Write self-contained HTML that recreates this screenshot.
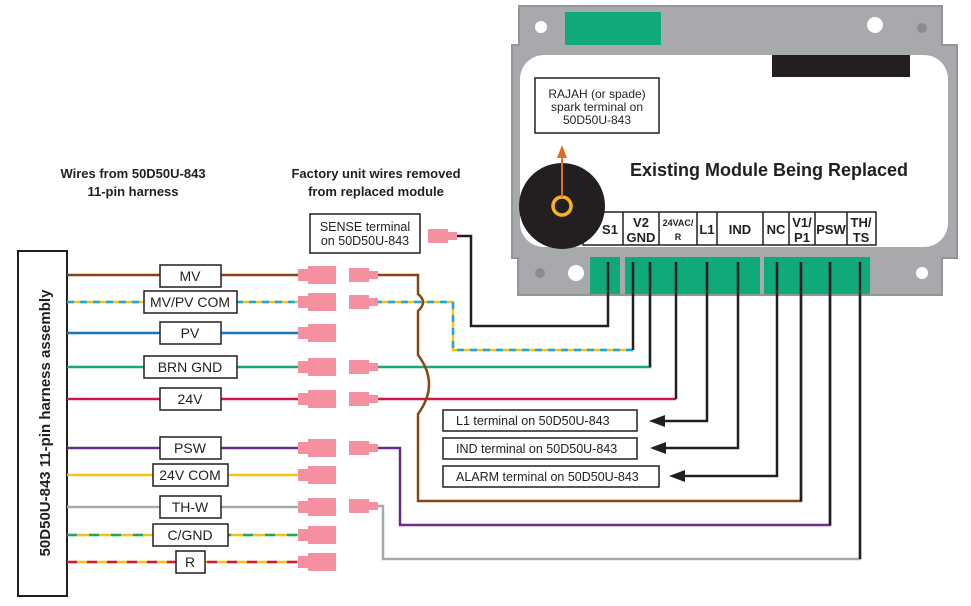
<!DOCTYPE html>
<html><head><meta charset="utf-8"><style>
html,body{margin:0;padding:0;background:#fff;}
svg{display:block;font-family:"Liberation Sans",Arial,sans-serif;}
</style></head><body>
<svg width="971" height="606" viewBox="0 0 971 606" xmlns="http://www.w3.org/2000/svg">
<defs>
<g id="fc"><rect x="0" y="-6" width="12" height="12" fill="#f4909f"/><rect x="10" y="-9" width="28" height="18" fill="#f4909f"/></g>
<g id="mc"><rect x="0" y="-7" width="20" height="14" fill="#f4909f"/><rect x="18" y="-4" width="11" height="8" fill="#f4909f"/></g>
</defs>

<!-- Module -->
<path d="M519 6 L942 6 L942 45 L957 45 L957 258 L942 258 L942 295 L518 295 L518 258 L512 258 L512 45 L519 45 Z" fill="#a7a9ac" stroke="#939598" stroke-width="2"/>
<rect x="565" y="12" width="96" height="33" fill="#10a97a"/>
<circle cx="541" cy="27" r="6" fill="#fff"/>
<circle cx="875" cy="25" r="8" fill="#fff"/>
<circle cx="922" cy="28" r="5" fill="#8a8c8f"/>
<rect x="520" y="55" width="428" height="192" rx="24" fill="#fff"/>
<rect x="772" y="55" width="138" height="22" fill="#231f20"/>
<rect x="535" y="78" width="124" height="55" fill="#fff" stroke="#231f20" stroke-width="1.5"/>
<text x="597" y="98" font-size="12" text-anchor="middle" fill="#231f20">RAJAH (or spade)</text>
<text x="597" y="111" font-size="12" text-anchor="middle" fill="#231f20">spark terminal on</text>
<text x="597" y="124" font-size="12" text-anchor="middle" fill="#231f20">50D50U-843</text>
<text x="769" y="176" font-size="18" font-weight="bold" text-anchor="middle" fill="#231f20">Existing Module Being Replaced</text>
<!-- terminal strip -->
<g stroke="#231f20" stroke-width="1.5" fill="#fff">
<rect x="583" y="212" width="293" height="33"/>
<line x1="623" y1="212" x2="623" y2="245"/>
<line x1="659" y1="212" x2="659" y2="245"/>
<line x1="697" y1="212" x2="697" y2="245"/>
<line x1="717" y1="212" x2="717" y2="245"/>
<line x1="763" y1="212" x2="763" y2="245"/>
<line x1="789" y1="212" x2="789" y2="245"/>
<line x1="815" y1="212" x2="815" y2="245"/>
<line x1="847" y1="212" x2="847" y2="245"/>
</g>
<g font-size="13" font-weight="bold" fill="#231f20" text-anchor="middle">
<text x="610" y="234">S1</text>
<text x="641" y="227">V2</text><text x="641" y="242">GND</text>
<text x="678" y="226" font-size="9">24VAC/</text><text x="678" y="240" font-size="9">R</text>
<text x="707" y="234">L1</text>
<text x="740" y="234">IND</text>
<text x="776" y="234">NC</text>
<text x="802" y="227">V1/</text><text x="802" y="242">P1</text>
<text x="831" y="234">PSW</text>
<text x="861" y="227">TH/</text><text x="861" y="242">TS</text>
</g>
<circle cx="562" cy="206" r="43" fill="#231f20"/>
<circle cx="562" cy="206" r="9" fill="none" stroke="#f7b618" stroke-width="3.5"/>
<line x1="562" y1="197" x2="562" y2="155" stroke="#d86f27" stroke-width="2"/>
<polygon points="557,158 567,158 562,145" fill="#d86f27"/>
<!-- bottom tab -->
<circle cx="540" cy="273" r="5" fill="#8a8c8f"/>
<circle cx="576" cy="273" r="8" fill="#fff"/>
<circle cx="922" cy="273" r="6" fill="#fff"/>
<rect x="590" y="257" width="30" height="37" fill="#10a97a"/>
<rect x="625" y="257" width="135" height="37" fill="#10a97a"/>
<rect x="764" y="257" width="106" height="37" fill="#10a97a"/>

<!-- left harness -->
<rect x="18" y="251" width="49" height="345" fill="#fff" stroke="#231f20" stroke-width="2"/>
<text transform="translate(50,423) rotate(-90)" font-size="15" font-weight="bold" text-anchor="middle" fill="#231f20">50D50U-843 11-pin harness assembly</text>
<text x="133" y="178" font-size="13" font-weight="bold" text-anchor="middle" fill="#231f20">Wires from 50D50U-843</text>
<text x="133" y="196" font-size="13" font-weight="bold" text-anchor="middle" fill="#231f20">11-pin harness</text>
<text x="376" y="178" font-size="13" font-weight="bold" text-anchor="middle" fill="#231f20">Factory unit wires removed</text>
<text x="376" y="196" font-size="13" font-weight="bold" text-anchor="middle" fill="#231f20">from replaced module</text>

<g stroke-width="2.5" fill="none">
<line x1="67" y1="275" x2="300" y2="275" stroke="#8b4513"/>
<line x1="67" y1="302" x2="300" y2="302" stroke="#f7c11a"/>
<line x1="67" y1="302" x2="300" y2="302" stroke="#1ba8dd" stroke-dasharray="7 6"/>
<line x1="67" y1="333" x2="300" y2="333" stroke="#1e73be"/>
<line x1="67" y1="367" x2="300" y2="367" stroke="#1aa774"/>
<line x1="67" y1="399" x2="300" y2="399" stroke="#d0174a"/>
<line x1="67" y1="448" x2="300" y2="448" stroke="#6a2c91"/>
<line x1="67" y1="475" x2="300" y2="475" stroke="#f7c11a"/>
<line x1="67" y1="507" x2="300" y2="507" stroke="#a7a9ac"/>
<line x1="67" y1="535" x2="300" y2="535" stroke="#f7c11a"/>
<line x1="67" y1="535" x2="300" y2="535" stroke="#1aa774" stroke-dasharray="10 12"/>
<line x1="67" y1="562" x2="300" y2="562" stroke="#f7c11a"/>
<line x1="67" y1="562" x2="300" y2="562" stroke="#d0174a" stroke-dasharray="10 10"/>

<!-- right wires -->
<polyline points="455,236 471,236 471,326 608,326 608,262" stroke="#231f20"/>
<polyline points="375,302 453,302 453,350 633,350" stroke="#f7c11a"/>
<polyline points="375,302 453,302 453,350 633,350" stroke="#1ba8dd" stroke-dasharray="7 6"/>
<line x1="633" y1="350" x2="633" y2="262" stroke="#231f20"/>
<polyline points="375,367 650,367 650,262" stroke="#1aa774"/>
<line x1="650" y1="367" x2="650" y2="262" stroke="#231f20"/>
<polyline points="375,399 676,399" stroke="#d0174a"/>
<line x1="676" y1="399" x2="676" y2="262" stroke="#231f20"/>
<path d="M375 275 L418 275 L418 294 Q428 302 418 311 L418 355 Q440 384 418 414 L418 501 L801 501 L801 262" stroke="#8b4513"/>
<polyline points="375,448 400,448 400,525 830,525 830,262" stroke="#6a2c91"/>
<polyline points="375,506 383,506 383,559 860,559 860,262" stroke="#a7a9ac"/>
<g stroke="#231f20">
<line x1="801" y1="501" x2="801" y2="262"/>
<line x1="830" y1="525" x2="830" y2="262"/>
<line x1="860" y1="559" x2="860" y2="262"/>
<polyline points="707,262 707,421 660,421"/>
<polyline points="738,262 738,448 660,448"/>
<polyline points="777,262 777,476 680,476"/>
</g>
</g>
<polygon points="649,421 665,415 665,427" fill="#231f20"/>
<polygon points="650,448 666,442 666,454" fill="#231f20"/>
<polygon points="669,476 685,470 685,482" fill="#231f20"/>

<!-- connectors -->
<g>
<use href="#fc" x="298" y="275"/><use href="#fc" x="298" y="302"/><use href="#fc" x="298" y="333"/>
<use href="#fc" x="298" y="367"/><use href="#fc" x="298" y="399"/><use href="#fc" x="298" y="448"/>
<use href="#fc" x="298" y="475"/><use href="#fc" x="298" y="507"/><use href="#fc" x="298" y="535"/>
<use href="#fc" x="298" y="562"/>
<use href="#mc" x="349" y="275"/><use href="#mc" x="349" y="302"/><use href="#mc" x="349" y="367"/>
<use href="#mc" x="349" y="399"/><use href="#mc" x="349" y="448"/><use href="#mc" x="349" y="506"/>
<use href="#mc" x="428" y="236"/>
</g>

<!-- labels -->
<g fill="#fff" stroke="#231f20" stroke-width="1.5">
<rect x="160" y="265" width="61" height="22"/>
<rect x="144" y="291" width="93" height="22"/>
<rect x="160" y="322" width="61" height="22"/>
<rect x="144" y="356" width="93" height="22"/>
<rect x="160" y="388" width="61" height="22"/>
<rect x="160" y="437" width="61" height="22"/>
<rect x="153" y="464" width="75" height="22"/>
<rect x="160" y="496" width="61" height="22"/>
<rect x="153" y="524" width="75" height="22"/>
<rect x="176" y="551" width="29" height="22"/>
<rect x="310" y="214" width="110" height="39"/>
<rect x="443" y="410" width="194" height="21"/>
<rect x="443" y="438" width="194" height="21"/>
<rect x="443" y="466" width="216" height="21"/>
</g>
<g font-size="14" text-anchor="middle" fill="#231f20">
<text x="190" y="281">MV</text>
<text x="190" y="307">MV/PV COM</text>
<text x="190" y="338">PV</text>
<text x="190" y="372">BRN GND</text>
<text x="190" y="404">24V</text>
<text x="190" y="453">PSW</text>
<text x="190" y="480">24V COM</text>
<text x="190" y="512">TH-W</text>
<text x="190" y="540">C/GND</text>
<text x="190" y="567">R</text>
</g>
<g font-size="12.5" fill="#231f20">
<text x="365" y="231" text-anchor="middle">SENSE terminal</text>
<text x="365" y="245" text-anchor="middle">on 50D50U-843</text>
<text x="456" y="425">L1 terminal on 50D50U-843</text>
<text x="456" y="453">IND terminal on 50D50U-843</text>
<text x="456" y="481">ALARM terminal on 50D50U-843</text>
</g>
</svg>
</body></html>
